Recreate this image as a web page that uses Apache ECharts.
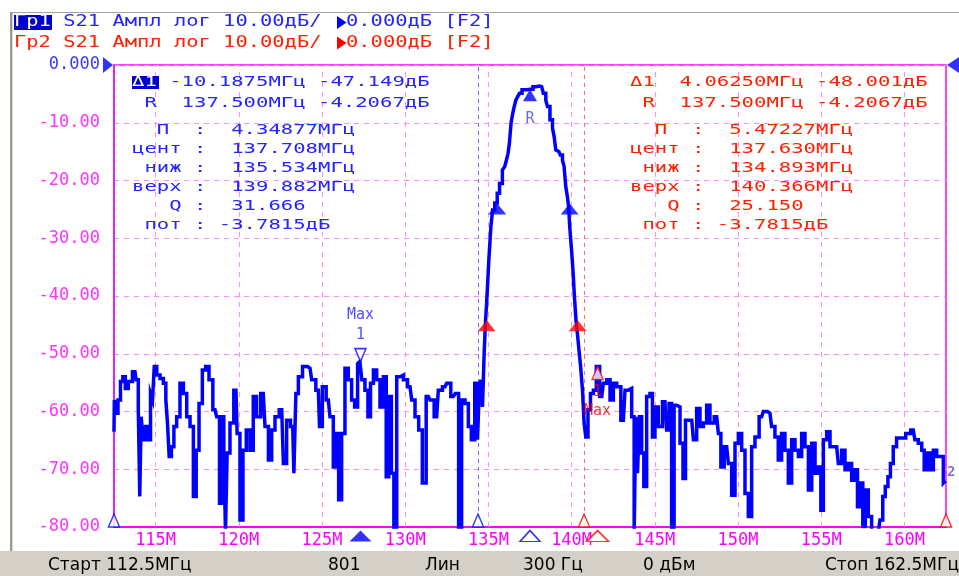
<!DOCTYPE html>
<html><head><meta charset="utf-8">
<script src="https://cdn.jsdelivr.net/npm/echarts@6/dist/echarts.min.js"></script>
<style>html,body{margin:0;padding:0;background:#fff}#c{width:959px;height:576px}</style>
</head><body><div id="c"></div>
<script>
// ---- data ----
const freqMHz = [
112.50,112.54,112.66,112.82,112.96,113.10,113.26,113.46,113.76,113.90,114.02,114.08,114.18,114.32,114.47,114.62,114.77,114.86,114.98,115.16,
115.37,115.56,115.67,115.76,115.87,116.03,116.17,116.36,116.57,116.77,116.97,117.17,117.37,117.51,117.71,117.91,118.11,118.31,118.57,118.77,
118.91,119.03,119.17,119.23,119.37,119.57,119.83,119.97,120.17,120.33,120.57,120.77,120.97,121.17,121.47,121.68,121.88,122.07,122.28,122.58,
122.78,122.97,123.24,123.38,123.48,123.68,123.98,124.28,124.48,124.78,124.92,125.12,125.38,125.58,125.78,125.92,126.08,126.28,126.48,126.68,
126.88,127.04,127.24,127.31,127.48,127.68,127.84,127.99,128.19,128.38,128.59,128.79,128.93,129.09,129.25,129.39,129.59,129.79,129.99,130.29,
130.49,130.69,130.93,131.13,131.39,131.59,131.89,132.09,132.39,132.59,132.89,133.13,133.29,133.49,133.70,133.89,134.06,134.30,134.39,134.50,
134.60,134.69,134.80,134.86,134.93,135.00,135.05,135.10,135.20,135.30,135.46,135.60,135.74,135.94,136.02,136.14,136.22,136.30,136.42,136.50,
136.60,136.70,136.80,136.94,137.10,137.50,137.86,138.06,138.20,138.40,
138.50,138.60,138.80,138.90,139.00,139.10,139.24,139.40,139.50,139.60,139.70,139.78,139.86,139.92,140.01,140.07,140.14,140.22,140.31,140.38,
140.47,140.61,140.70,140.80,140.91,141.06,141.21,141.41,141.56,
141.81,142.01,142.21,142.41,142.61,142.81,143.11,143.31,143.51,143.71,143.81,143.91,144.01,144.15,144.27,144.41,144.61,144.81,144.91,145.11,
145.31,145.61,145.81,145.91,146.11,146.21,146.41,146.62,146.77,146.92,147.22,147.42,147.61,147.82,148.02,148.21,148.42,148.72,148.92,149.02,
149.32,149.52,149.72,149.92,150.12,150.32,150.52,150.72,150.92,151.12,151.42,151.62,151.92,152.12,152.32,152.52,152.72,152.92,153.13,153.32,
153.53,153.73,153.92,154.13,154.33,154.53,154.73,154.93,155.03,155.23,155.43,155.63,155.93,156.13,156.33,156.53,156.73,156.93,157.13,157.23,
157.43,157.57,157.73,157.93,158.13,158.43,158.63,158.77,158.93,159.09,159.23,159.43,159.63,159.93,160.23,160.53,160.73,160.94,161.14,161.24,
161.44,161.64,161.84,162.04,162.24,162.44,162.50
];
const s21dB = [
-63.5,-58.0,-60.3,-58.0,-54.8,-54.0,-56.0,-54.8,-53.1,-54.5,-59.7,-74.7,-60.9,-64.9,-62.6,-64.9,-56.9,-58.0,-52.2,-53.7,
-54.3,-55.1,-58.0,-62.0,-67.8,-66.1,-62.6,-60.9,-55.1,-56.9,-60.9,-62.6,-74.7,-66.7,-58.6,-52.8,-52.2,-54.5,-59.7,-60.9,
-75.9,-60.9,-66.7,-81.0,-67.2,-62.0,-56.3,-63.8,-78.8,-66.7,-63.2,-66.7,-57.4,-60.9,-56.9,-62.6,-68.4,-63.2,-60.9,-59.7,
-69.0,-61.5,-62.6,-70.7,-56.9,-54.0,-52.2,-52.5,-54.5,-56.3,-62.6,-55.7,-58.0,-60.9,-69.6,-63.8,-75.3,-63.8,-52.5,-54.5,
-58.0,-59.2,-51.7,-51.36,-54.5,-56.3,-60.9,-55.1,-52.8,-54.5,-59.2,-54.0,-71.3,-57.4,-70.7,-81.0,-54.0,-53.7,-54.5,-55.7,
-58.0,-60.9,-63.2,-72.4,-57.4,-58.0,-60.9,-56.3,-55.7,-55.1,-57.4,-56.9,-81.0,-58.0,-58.6,-62.6,-64.9,-55.1,-64.9,-56.9,
-54.5,-59.2,-49.9,-44.2,-41.2,-37.2,-33.8,-31.5,-28.0,-25.1,-23.9,-22.2,-20.5,-18.2,-17.6,-16.5,-15.3,-13.6,-10.1,-8.4,
-7.2,-6.1,-5.5,-4.9,-4.3,-4.21,-3.75,-3.65,-3.75,-4.9,
-6.1,-7.2,-9.5,-10.9,-12.4,-14.7,-15.0,-15.6,-16.5,-17.6,-21.1,-22.7,-24.5,-28.1,-30.9,-33.8,-36.7,-40.6,-44.2,-46.4,
-48.8,-52.2,-56.3,-62.0,-64.4,-59.7,-56.9,-56.3,-52.21,
-57.4,-55.1,-54.5,-58.0,-55.1,-55.7,-61.5,-56.3,-56.0,-60.9,-81.0,-60.9,-70.7,-60.9,-67.2,-73.0,-57.4,-56.9,-64.4,-59.2,
-62.6,-58.3,-63.2,-58.6,-81.0,-58.9,-59.2,-65.5,-71.6,-61.5,-61.5,-64.9,-59.5,-62.6,-62.0,-58.9,-62.0,-60.9,-63.8,-69.6,
-66.1,-69.0,-74.5,-65.5,-63.8,-66.7,-74.2,-78.2,-66.1,-64.4,-60.9,-60.0,-60.3,-62.6,-64.4,-68.4,-63.8,-66.7,-72.4,-64.9,
-66.7,-67.8,-63.8,-66.1,-73.6,-65.5,-70.7,-69.6,-77.1,-64.9,-63.5,-66.1,-66.1,-69.0,-66.7,-70.1,-69.0,-71.9,-70.1,-76.5,
-72.4,-79.9,-73.6,-78.2,-81.0,-81.0,-78.8,-74.7,-73.0,-71.3,-69.0,-66.1,-64.6,-64.6,-63.8,-63.2,-64.9,-65.5,-66.7,-70.1,
-67.2,-70.1,-66.7,-67.8,-67.8,-72.4,-72.0
];
const xTicks = [115,120,125,130,135,140,145,150,155,160];
const yTicks = [0,-10,-20,-30,-40,-50,-60,-70,-80];
const mkr1Blue = [127.3125, -51.356];
const mkr1Red = [141.5625, -52.208];
const mkrR = [137.5, -4.2067];
const bwBlue = [[135.534, -24.0], [139.882, -24.0]];
const bwRed = [[134.893, -44.2], [140.366, -44.2]];
const searchBlue = [112.5, 134.375];
const searchRed = [140.75, 162.5];
const trace2Tag = [162.5, -70.5];
const blockBlue = [
  ' R  137.500МГц -4.2067дБ',
  '  П  :  4.34877МГц',
  'цент :  137.708МГц',
  ' ниж :  135.534МГц',
  'верх :  139.882МГц',
  '   Q :  31.666',
  ' пот : -3.7815дБ'
];
const blockRed = [
  'Δ1  4.06250МГц -48.001дБ',
  ' R  137.500МГц -4.2067дБ',
  '  П  :  5.47227МГц',
  'цент :  137.630МГц',
  ' ниж :  134.893МГц',
  'верх :  140.366МГц',
  '   Q :  25.150',
  ' пот : -3.7815дБ'
];
const statusItems = ['Старт 112.5МГц','801','Лин','300 Гц','0 дБм','Стоп 162.5МГц'];

// ---- styles ----
const BLUE='#0000ff', RED='#ff0000', MAG='#ff00ff', GRIDC='#ff8cff', TXTB='#2424ff', TXTR='#ff2000';
const MONO='"DejaVu Sans Mono", "Liberation Mono", monospace';
const TRI_UP='path://M5,0L10,10L0,10Z', TRI_DN='path://M0,0L10,0L5,10Z', TRI_R='path://M0,0L10,5L0,10Z', TRI_L='path://M10,0L0,5L10,10Z';

function mono(x, y, text, color, size, pitch){
  const sx = pitch / (0.6021 * size);
  return {type:'text', x:x, y:y, scaleX:sx, silent:true, z:100,
    style:{text:text, font: size+'px '+MONO, fill:color, textVerticalAlign:'middle', textAlign:'left'}};
}
function mk(data, opt){
  return Object.assign({type:'scatter', data:data, silent:true, clip:false, z:10, animation:false}, opt);
}
const open = c => ({color:'#ffffff', borderColor:c, borderWidth:1.5});

const chart = echarts.init(document.getElementById('c'));
const trace = freqMHz.map((f,i)=>[f, s21dB[i]]);

const blockY = [103.5, 130, 149, 168, 187, 206, 225];
const graphics = [
  {type:'rect', shape:{x:10,y:12,width:949,height:1}, style:{fill:'#a8a49c'}, silent:true},
  {type:'rect', shape:{x:10,y:12,width:2,height:540}, style:{fill:'#9c988f'}, silent:true},
  {type:'rect', shape:{x:12,y:13,width:1,height:539}, style:{fill:'#dedad2'}, silent:true},
  {type:'rect', shape:{x:0,y:551,width:959,height:25}, style:{fill:'#d4d0c8'}, silent:true},
  {type:'rect', shape:{x:14,y:15,width:38,height:15}, style:{fill:'#0000d0'}, silent:true},
  mono(14, 22.5, 'Гр1', '#ffffff', 15, 12.3),
  mono(63.2, 22.5, 'S21 Ампл лог 10.00дБ/', TXTB, 15, 12.3),
  {type:'polygon', shape:{points:[[337,16],[346.5,22.5],[337,29]]}, style:{fill:BLUE}, silent:true},
  mono(346, 22.5, '0.000дБ [F2]', TXTB, 15, 12.3),
  mono(14, 43, 'Гр2 S21 Ампл лог 10.00дБ/', TXTR, 15, 12.3),
  {type:'polygon', shape:{points:[[337,36.5],[346.5,43],[337,49.5]]}, style:{fill:RED}, silent:true},
  mono(346, 43, '0.000дБ [F2]', TXTR, 15, 12.3),
  {type:'rect', shape:{x:132,y:76,width:27,height:13}, style:{fill:'#0000d0'}, silent:true, z:99},
  mono(132, 82.5, 'Δ1', '#ffffff', 14, 12.4),
  mono(156.8, 82.5, ' -10.1875МГц -47.149дБ', TXTB, 14, 12.4),
  mono(630, 82.5, blockRed[0], TXTR, 14, 12.4)
];
blockBlue.forEach((s,i)=>graphics.push(mono(132, blockY[i], s, TXTB, 14, 12.4)));
blockRed.slice(1).forEach((s,i)=>graphics.push(mono(630, blockY[i], s, TXTR, 14, 12.4)));
const statusX = [48, 328, 425, 523, 643, 825];
statusItems.forEach((s,i)=>graphics.push({type:'text', x:statusX[i], y:566, silent:true, z:100,
  style:{text:s, font:'17px "DejaVu Sans", sans-serif', fill:'#000', textVerticalAlign:'middle'}}));

chart.setOption({
  animation:false,
  grid:{left:114, right:13, top:65, bottom:49, show:true, borderColor:MAG, borderWidth:1.5, backgroundColor:'transparent'},
  xAxis:{type:'value', min:112.5, max:162.5,
    axisLine:{show:true, onZero:false, lineStyle:{color:MAG, width:2}},
    axisTick:{show:false}, splitLine:{show:false},
    axisLabel:{customValues:xTicks, formatter:v=>v+'M', color:MAG, fontFamily:MONO, fontSize:17, margin:5}},
  yAxis:{type:'value', min:-80, max:0, interval:10,
    axisLine:{show:true, lineStyle:{color:MAG, width:1.5}},
    axisTick:{show:false},
    splitLine:{show:true, lineStyle:{color:GRIDC, type:[5,5], width:1}},
    axisLabel:{margin:14, fontFamily:MONO, fontSize:17,
      formatter:v=> v===0 ? '{b|0.000}' : '{m|'+v.toFixed(2)+'}',
      rich:{b:{color:'#3a3aff', fontFamily:MONO, fontSize:17}, m:{color:'#ff33ff', fontFamily:MONO, fontSize:17}}}},
  graphic:{elements:graphics},
  series:[
    {type:'line', data:[], silent:true, z:1,
      markLine:{silent:true, symbol:['none','none'], label:{show:false}, animation:false,
        lineStyle:{color:GRIDC, type:[5,5], width:1},
        data: xTicks.map(v=>({xAxis:v}))}},
    {type:'line', data:[], silent:true, z:2,
      markLine:{silent:true, symbol:['none','none'], label:{show:false}, animation:false,
        data: searchBlue.map(v=>({xAxis:v, lineStyle:{color:'#6c6cff', type:[4,4], width:1}}))
          .concat(searchRed.map(v=>({xAxis:v, lineStyle:{color:'#ff6c6c', type:[4,4], width:1}})))}},
    {type:'line', data:trace, step:'middle', symbol:'none', showSymbol:false, silent:true, clip:true, z:5,
      lineStyle:{color:BLUE, width:3.5, join:'miter'}},
    mk(bwBlue, {symbol:TRI_UP, symbolSize:[18,11], symbolOffset:[0,5.5], itemStyle:{color:BLUE}}),
    mk(bwRed, {symbol:TRI_UP, symbolSize:[18,11], symbolOffset:[0,5.5], itemStyle:{color:RED}}),
    mk([mkrR], {symbol:TRI_UP, symbolSize:[14,12], symbolOffset:[0,6], itemStyle:{color:BLUE},
      label:{show:true, position:'bottom', distance:10, formatter:'R', color:'#4848d0', fontFamily:MONO, fontSize:15}}),
    mk([mkr1Blue], {symbol:TRI_DN, symbolSize:[11,13], symbolOffset:[0,-6.5], itemStyle:open(BLUE),
      label:{show:true, position:'top', distance:3, formatter:'Max\n1', color:TXTB, fontFamily:MONO, fontSize:15, lineHeight:20, align:'center'}}),
    mk([mkr1Red], {symbol:TRI_UP, symbolSize:[11,13], symbolOffset:[0,6.5], itemStyle:open(RED),
      label:{show:true, position:'bottom', distance:2, formatter:'1\nMax', color:RED, fontFamily:MONO, fontSize:15, lineHeight:19, align:'center'}}),
    mk(searchBlue.map(v=>[v,-80]), {symbol:TRI_UP, symbolSize:[11,13], symbolOffset:[0,-6.5], itemStyle:open(BLUE)}),
    mk(searchRed.map(v=>[v,-80]), {symbol:TRI_UP, symbolSize:[11,13], symbolOffset:[0,-6.5], itemStyle:open(RED)}),
    mk([[mkr1Blue[0],-80]], {symbol:TRI_UP, symbolSize:[22,11], symbolOffset:[0,9], itemStyle:{color:BLUE}}),
    mk([[mkrR[0],-80]], {symbol:TRI_UP, symbolSize:[20,11], symbolOffset:[0,9], itemStyle:open(BLUE)}),
    mk([[mkr1Red[0],-80]], {symbol:TRI_UP, symbolSize:[22,11], symbolOffset:[0,9], itemStyle:open(RED)}),
    mk([[112.5,0]], {symbol:TRI_R, symbolSize:[10,16], symbolOffset:[-6,0], itemStyle:{color:BLUE}}),
    mk([[162.5,0]], {symbol:TRI_L, symbolSize:[12,16], symbolOffset:[7,0], itemStyle:{color:BLUE}}),
    mk([trace2Tag], {symbol:'circle', symbolSize:0.1, itemStyle:{color:'transparent'},
      label:{show:true, position:'right', distance:1, formatter:'2', color:'#5a4fc8', fontFamily:MONO, fontSize:14, fontWeight:'bold'}})
  ]
});
</script></body></html>
